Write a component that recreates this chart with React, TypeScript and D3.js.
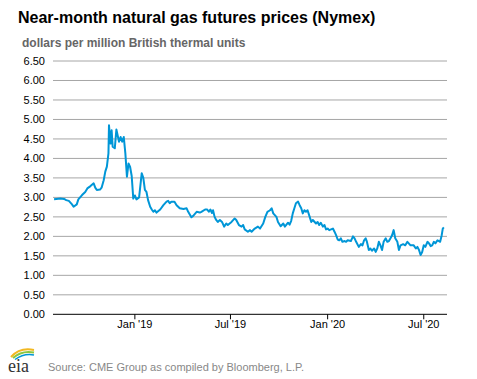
import React from "react";
import * as d3 from "d3";

const dates: string[] = [
  "2018-08-01","2018-08-13","2018-08-20","2018-08-24","2018-08-29","2018-09-04","2018-09-07","2018-09-13","2018-09-16","2018-09-23","2018-09-29",
  "2018-10-03","2018-10-09","2018-10-15","2018-10-18","2018-10-21","2018-10-27","2018-10-30","2018-11-03","2018-11-06","2018-11-09","2018-11-12",
  "2018-11-13","2018-11-16","2018-11-18","2018-11-20","2018-11-24","2018-11-27","2018-12-02","2018-12-05","2018-12-08","2018-12-11","2018-12-14",
  "2018-12-17","2018-12-20","2018-12-23","2018-12-26","2018-12-29","2019-01-01","2019-01-04","2019-01-09","2019-01-14","2019-01-17","2019-01-20",
  "2019-01-23","2019-01-26","2019-01-30","2019-02-02","2019-02-05","2019-02-08","2019-02-11","2019-02-18","2019-02-24","2019-03-02","2019-03-05",
  "2019-03-08","2019-03-11","2019-03-17","2019-03-21","2019-03-27","2019-04-03","2019-04-09","2019-04-12","2019-04-18","2019-04-21","2019-04-28",
  "2019-05-04","2019-05-07","2019-05-14","2019-05-18","2019-05-21","2019-05-24","2019-05-27","2019-05-29","2019-06-01","2019-06-04","2019-06-07",
  "2019-06-11","2019-06-15","2019-06-19","2019-06-23","2019-06-26","2019-07-03","2019-07-09","2019-07-12","2019-07-17","2019-07-22","2019-07-25",
  "2019-07-28","2019-08-03","2019-08-07","2019-08-10","2019-08-16","2019-08-22","2019-08-26","2019-09-01","2019-09-05","2019-09-09","2019-09-14",
  "2019-09-17","2019-09-20","2019-09-26","2019-09-29","2019-10-04","2019-10-09","2019-10-12","2019-10-18","2019-10-21","2019-10-24","2019-10-27",
  "2019-10-30","2019-11-02","2019-11-06","2019-11-09","2019-11-12","2019-11-15","2019-11-18","2019-11-21","2019-11-24","2019-11-28","2019-12-01",
  "2019-12-04","2019-12-10","2019-12-13","2019-12-16","2019-12-19","2019-12-23","2019-12-26","2019-12-29","2020-01-01","2020-01-04","2020-01-11",
  "2020-01-14","2020-01-17","2020-01-20","2020-01-23","2020-01-26","2020-01-29","2020-02-02","2020-02-05","2020-02-08","2020-02-14","2020-02-18",
  "2020-02-21","2020-02-24","2020-02-29","2020-03-04","2020-03-07","2020-03-10","2020-03-13","2020-03-15","2020-03-19","2020-03-22","2020-03-25",
  "2020-03-29","2020-04-01","2020-04-04","2020-04-07","2020-04-10","2020-04-13","2020-04-16","2020-04-20","2020-04-23","2020-04-26","2020-04-29",
  "2020-05-02","2020-05-05","2020-05-08","2020-05-12","2020-05-15","2020-05-18","2020-05-23","2020-05-27","2020-05-31","2020-06-06","2020-06-12",
  "2020-06-16","2020-06-19","2020-06-22","2020-06-25","2020-06-28","2020-07-01","2020-07-04","2020-07-08","2020-07-11","2020-07-14","2020-07-17",
  "2020-07-20","2020-07-23","2020-07-27","2020-08-01","2020-08-04","2020-08-06","2020-08-08"
];

const prices: number[] = [
  2.95,2.97,2.96,2.93,2.91,2.82,2.76,2.82,2.95,3.06,3.14,
  3.23,3.29,3.36,3.25,3.19,3.20,3.25,3.44,3.66,3.79,4.13,
  4.85,4.38,4.72,4.30,4.26,4.74,4.43,4.55,4.43,4.55,4.13,
  3.53,3.87,3.78,3.55,2.97,3.05,2.95,3.00,3.62,3.50,3.19,
  3.14,2.93,2.76,2.69,2.63,2.67,2.61,2.69,2.80,2.89,2.91,
  2.85,2.89,2.89,2.80,2.72,2.70,2.72,2.63,2.49,2.52,2.63,
  2.61,2.63,2.69,2.69,2.63,2.69,2.60,2.67,2.50,2.42,2.37,
  2.42,2.37,2.25,2.33,2.29,2.37,2.46,2.42,2.29,2.25,2.29,
  2.18,2.12,2.16,2.12,2.20,2.25,2.20,2.33,2.50,2.63,2.67,
  2.72,2.59,2.50,2.37,2.26,2.33,2.25,2.35,2.30,2.40,2.59,
  2.72,2.85,2.89,2.80,2.72,2.59,2.67,2.63,2.67,2.50,2.37,
  2.42,2.33,2.37,2.29,2.35,2.25,2.29,2.18,2.20,2.16,2.20,
  2.12,2.03,1.92,1.90,1.95,1.86,1.88,1.86,1.90,1.88,2.00,
  1.95,1.86,1.73,1.80,1.77,1.90,1.95,1.88,1.65,1.69,1.63,
  1.69,1.60,1.69,1.86,1.77,1.65,1.86,1.95,1.86,1.88,1.95,
  2.03,2.16,1.95,1.86,1.65,1.77,1.80,1.77,1.86,1.77,1.77,
  1.69,1.73,1.65,1.52,1.60,1.77,1.73,1.86,1.82,1.75,1.77,
  1.86,1.82,1.90,1.86,2.03,2.20,2.23
];

const yTicks: number[] = [0, 0.5, 1, 1.5, 2, 2.5, 3, 3.5, 4, 4.5, 5, 5.5, 6, 6.5];
const xTickDates: string[] = ["2019-01-01", "2019-07-01", "2020-01-01", "2020-07-01"];
const xTickLabels: string[] = ["Jan '19", "Jul '19", "Jan '20", "Jul '20"];

const title = "Near-month natural gas futures prices (Nymex)";
const subtitle = "dollars per million British thermal units";
const source = "Source: CME Group as compiled by Bloomberg, L.P.";

const W = 477;
const H = 379;
const plot = { left: 53, right: 447, top: 61, bottom: 314.3 };

export default function App() {
  const parse = d3.timeParse("%Y-%m-%d");
  const data = dates.map((d, i) => ({ date: parse(d) as Date, v: prices[i] }));
  const x = d3
    .scaleTime()
    .domain([parse("2018-07-30") as Date, parse("2020-08-14") as Date])
    .range([plot.left, plot.right]);
  const y = d3.scaleLinear().domain([0, 6.5]).range([plot.bottom, plot.top]);
  const line = d3
    .line<{ date: Date; v: number }>()
    .x((d) => x(d.date))
    .y((d) => y(d.v));

  const font = "Arial, 'Liberation Sans', sans-serif";

  return (
    <svg
      width={W}
      height={H}
      style={{ position: "absolute", left: 0, top: 0, background: "#fff" }}
      fontFamily={font}
    >
      <rect x={0} y={0} width={W} height={H} fill="#fff" />
      <text x={18} y={22.5} fontSize={16} fontWeight="bold" fill="#000">
        {title}
      </text>
      <text x={22} y={46.5} fontSize={12} fontWeight="bold" fill="#666">
        {subtitle}
      </text>
      {yTicks.map((t) => (
        <g key={t}>
          {t !== 0 && (
            <line
              x1={plot.left}
              x2={plot.right}
              y1={y(t)}
              y2={y(t)}
              stroke="#a6a6a6"
              strokeWidth={1}
            />
          )}
          <text
            x={45}
            y={y(t)}
            dy="0.35em"
            textAnchor="end"
            fontSize={11}
            fill="#000"
          >
            {t.toFixed(2)}
          </text>
        </g>
      ))}
      <path
        d={line(data) || ""}
        fill="none"
        stroke="#0096d7"
        strokeWidth={2}
        strokeLinejoin="round"
      />
      <line
        x1={plot.left}
        x2={plot.right}
        y1={plot.bottom}
        y2={plot.bottom}
        stroke="#000"
        strokeWidth={1}
      />
      {xTickDates.map((d, i) => {
        const xp = x(parse(d) as Date);
        return (
          <g key={d}>
            <line x1={xp} x2={xp} y1={plot.bottom} y2={plot.bottom + 5} stroke="#000" />
            <text x={xp} y={328} textAnchor="middle" fontSize={11} fill="#000">
              {xTickLabels[i]}
            </text>
          </g>
        );
      })}
      <g>
        <path d="M11,357 Q20,347 34,350" fill="none" stroke="#f2b822" strokeWidth={2} />
        <path d="M13,358 Q22,350 34,352.5" fill="none" stroke="#8cc63f" strokeWidth={2} />
        <path d="M15,359.5 Q24,353 34,355" fill="none" stroke="#0096d7" strokeWidth={1.5} />
        <text x={8} y={372} fontSize={18} fontFamily="'Liberation Serif', serif" fill="#333">
          eia
        </text>
      </g>
      <text x={48} y={370.5} fontSize={11} fill="#888">
        {source}
      </text>
    </svg>
  );
}
